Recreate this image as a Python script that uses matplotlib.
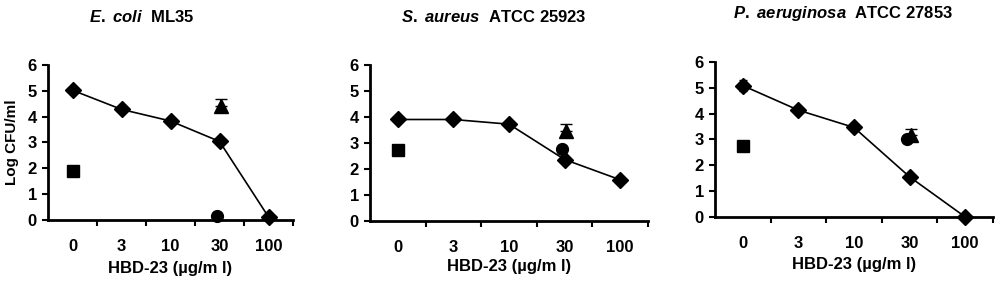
import matplotlib.pyplot as plt

plt.rcParams['font.family'] = ['Liberation Sans', 'DejaVu Sans']
plt.rcParams['mathtext.fontset'] = 'custom'
plt.rcParams['mathtext.it'] = 'Liberation Sans:italic:bold'
plt.rcParams['mathtext.rm'] = 'Liberation Sans:bold'

doses = ['0', '3', '10', '30', '100']

# E. coli ML35
ecoli_line = [5.02, 4.28, 3.83, 3.04, 0.12]
ecoli_line_err = [0.05, 0.05, 0.05, 0.06, 0.05]
ecoli_square = 1.88
ecoli_square_err = 0.08
ecoli_triangle = 4.42
ecoli_triangle_err = 0.27
ecoli_circle = 0.15
ecoli_circle_err = 0.05

# S. aureus ATCC 25923
saur_line = [3.9, 3.9, 3.72, 2.36, 1.58]
saur_line_err = [0.05, 0.05, 0.05, 0.1, 0.05]
saur_square = 2.73
saur_square_err = 0.08
saur_triangle = 3.47
saur_triangle_err = 0.25
saur_circle = 2.75
saur_circle_err = 0.12

# P. aeruginosa ATCC 27853
paer_line = [5.08, 4.13, 3.46, 1.55, 0.0]
paer_line_err = [0.2, 0.05, 0.12, 0.13, 0.02]
paer_square = 2.75
paer_square_err = 0.05
paer_triangle = 3.17
paer_triangle_err = 0.24
paer_circle = 3.03
paer_circle_err = 0.1

panels = [
    ('E. coli', 'ML35', ecoli_line, ecoli_line_err, ecoli_square, ecoli_square_err,
     ecoli_triangle, ecoli_triangle_err, ecoli_circle, ecoli_circle_err),
    ('S. aureus', 'ATCC 25923', saur_line, saur_line_err, saur_square, saur_square_err,
     saur_triangle, saur_triangle_err, saur_circle, saur_circle_err),
    ('P. aeruginosa', 'ATCC 27853', paer_line, paer_line_err, paer_square, paer_square_err,
     paer_triangle, paer_triangle_err, paer_circle, paer_circle_err),
]

# axes boxes in figure fractions (left, bottom, width, height)
boxes = [
    (0.048, 0.217, 0.245, 0.552),
    (0.370, 0.214, 0.278, 0.555),
    (0.715, 0.228, 0.278, 0.552),
]
title_pos = [(0.142, 0.94), (0.494, 0.94), (0.843, 0.953)]
xlabel_y = [0.045, 0.05, 0.057]

fig = plt.figure(figsize=(10, 2.81), dpi=100)

for i, (p, box) in enumerate(zip(panels, boxes)):
    italic, strain, line, line_err, sq, sq_err, tri, tri_err, circ, circ_err = p
    ax = fig.add_axes(box)
    x = list(range(len(doses)))
    ax.errorbar(x, line, yerr=line_err, color='black', marker='D', ms=8.5, lw=1.2,
                capsize=3, elinewidth=1.2, clip_on=False, zorder=3)
    ax.errorbar([0], [sq], yerr=[[0], [sq_err]], color='black', marker='s', ms=8.5,
                capsize=3, elinewidth=1.2, ls='none', clip_on=False, zorder=3)
    ax.errorbar([3 - 0.05], [circ], yerr=[[0], [circ_err]], color='black', marker='o', ms=8.5,
                capsize=3, elinewidth=1.2, ls='none', clip_on=False, zorder=3)
    ax.errorbar([3 + 0.03], [tri], yerr=[[0], [tri_err]], color='black', marker='^', ms=10,
                capsize=4, elinewidth=1.2, ls='none', clip_on=False, zorder=4)

    ax.set_xlim(-0.5, 4.5)
    ax.set_ylim(0, 6)
    ax.set_yticks(range(7))
    ax.set_xticks(x)
    ax.set_xticklabels(doses)
    ax.set_xticks([0.5, 1.5, 2.5, 3.5, 4.5], minor=True)
    ax.tick_params(axis='x', which='major', length=0, pad=14)
    ax.tick_params(axis='x', which='minor', length=4, width=1.5, direction='out')
    ax.tick_params(axis='y', length=4, width=1.5, direction='out', pad=4)
    for lab in ax.get_xticklabels() + ax.get_yticklabels():
        lab.set_fontsize(12)
        lab.set_fontweight('bold')
    for s in ['top', 'right']:
        ax.spines[s].set_visible(False)
    for s in ['left', 'bottom']:
        ax.spines[s].set_linewidth(2)

    tx, ty = title_pos[i]
    fig.text(tx, ty, r'$\it{' + italic.replace(' ', r'\ ') + r'}$' + '  ' + strain,
             ha='center', va='center', fontsize=12, fontweight='bold')
    fig.text(box[0] + box[2] / 2, xlabel_y[i], 'HBD-23 (µg/m l)', ha='center',
             va='center', fontsize=12, fontweight='bold')

fig.text(0.012, 0.217 + 0.552 / 2, 'Log CFU/ml', rotation=90, ha='center',
         va='center', fontsize=11, fontweight='bold')

fig.savefig('out.png', dpi=100)
